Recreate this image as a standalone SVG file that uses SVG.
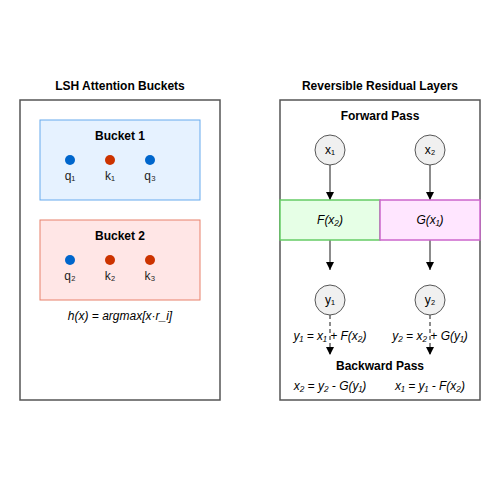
<svg xmlns="http://www.w3.org/2000/svg" width="500" height="500" viewBox="0 0 500 500">
<defs>
<marker id="arr" viewBox="0 0 10 10" refX="10" refY="5" markerWidth="8" markerHeight="8" markerUnits="userSpaceOnUse" orient="auto">
<path d="M0,0 L10,5 L0,10 z" fill="#000"/>
</marker>
</defs>
<style>
text{font-family:"Liberation Sans",Arial,sans-serif;font-size:12px;fill:#000;text-anchor:middle}
.title{font-weight:bold}
.lbl{font-size:12px;fill:#222}
.it{font-style:italic}
.panel{fill:#fff;stroke:#555;stroke-width:1.5}
.node{fill:#f0f0f0;stroke:#555;stroke-width:1}
.ln{stroke:#666;stroke-width:1.5;fill:none}
.dash{stroke:#666;stroke-width:1.5;fill:none;stroke-dasharray:4,3}
</style>
<rect width="500" height="500" fill="#fff"/>
<g id="lsh">
<text class="title" x="120" y="90">LSH Attention Buckets</text>
<rect class="panel" x="20" y="100" width="200" height="300"/>
<g id="bucket1">
<rect x="40" y="120" width="160" height="80" fill="#e6f2ff" stroke="#66aaee" stroke-width="1"/>
<text class="title" x="120" y="140">Bucket 1</text>
<circle cx="70" cy="160" r="5" fill="#0066cc"/>
<circle cx="110" cy="160" r="5" fill="#cc3300"/>
<circle cx="150" cy="160" r="5" fill="#0066cc"/>
<text class="lbl" x="70" y="180">q₁</text>
<text class="lbl" x="110" y="180">k₁</text>
<text class="lbl" x="150" y="180">q₃</text>
</g>
<g id="bucket2">
<rect x="40" y="220" width="160" height="80" fill="#ffe6e6" stroke="#e8806b" stroke-width="1"/>
<text class="title" x="120" y="240">Bucket 2</text>
<circle cx="70" cy="260" r="5" fill="#0066cc"/>
<circle cx="110" cy="260" r="5" fill="#cc3300"/>
<circle cx="150" cy="260" r="5" fill="#cc3300"/>
<text class="lbl" x="70" y="280">q₂</text>
<text class="lbl" x="110" y="280">k₂</text>
<text class="lbl" x="150" y="280">k₃</text>
</g>
<text class="it" x="120" y="320">h(x) = argmax[x·r_i]</text>
</g>
<g id="reversible">
<text class="title" x="380" y="90">Reversible Residual Layers</text>
<rect class="panel" x="280" y="100" width="200" height="300"/>
<text class="title" x="380" y="120">Forward Pass</text>
</g>
<g id="connectors">
<line class="ln" x1="330" y1="165" x2="330" y2="200" marker-end="url(#arr)"/>
<line class="ln" x1="430" y1="165" x2="430" y2="200" marker-end="url(#arr)"/>
<line class="ln" x1="330" y1="240" x2="330" y2="270" marker-end="url(#arr)"/>
<line class="ln" x1="430" y1="240" x2="430" y2="270" marker-end="url(#arr)"/>
<line class="dash" x1="330" y1="315" x2="330" y2="355" marker-end="url(#arr)"/>
<line class="dash" x1="430" y1="315" x2="430" y2="355" marker-end="url(#arr)"/>
</g>
<g id="x1"><circle class="node" cx="330" cy="150" r="15"/><text x="330" y="154">x₁</text></g>
<g id="x2"><circle class="node" cx="430" cy="150" r="15"/><text x="430" y="154">x₂</text></g>
<g id="F"><rect x="280" y="200" width="100" height="40" fill="#e6ffe6" stroke="#66cc66" stroke-width="1.5"/><text class="it" x="330" y="224">F(x₂)</text></g>
<g id="G"><rect x="380" y="200" width="100" height="40" fill="#ffe6ff" stroke="#cc66cc" stroke-width="1.5"/><text class="it" x="430" y="224">G(x₁)</text></g>
<g id="y1"><circle class="node" cx="330" cy="300" r="15"/><text x="330" y="304">y₁</text></g>
<g id="y2"><circle class="node" cx="430" cy="300" r="15"/><text x="430" y="304">y₂</text></g>
<g id="equations">
<text class="it" x="330" y="340">y₁ = x₁ + F(x₂)</text>
<text class="it" x="430" y="340">y₂ = x₂ + G(y₁)</text>
<text class="title" x="380" y="370">Backward Pass</text>
<text class="it" x="330" y="390">x₂ = y₂ - G(y₁)</text>
<text class="it" x="430" y="390">x₁ = y₁ - F(x₂)</text>
</g>
</svg>
